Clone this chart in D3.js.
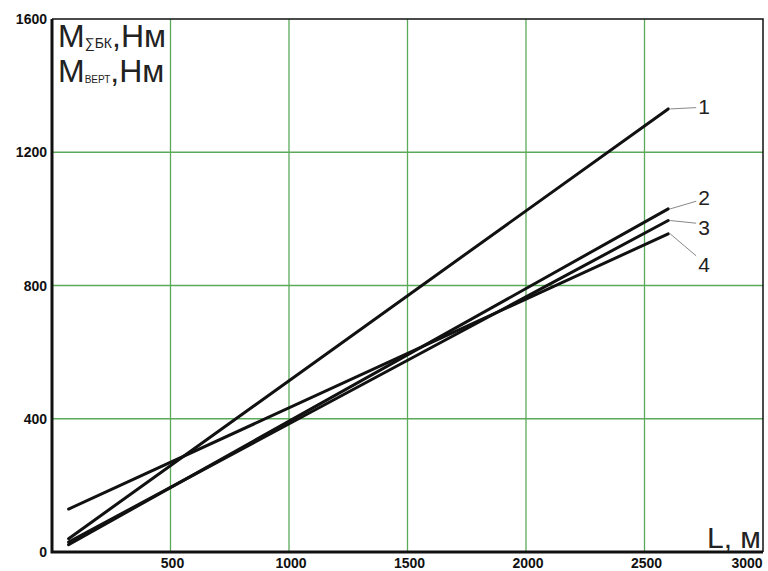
<!DOCTYPE html>
<html>
<head>
<meta charset="utf-8">
<script src="https://cdn.jsdelivr.net/npm/d3@7"></script>
<style>
  body { margin: 0; background: #fff; }
  svg text { font-family: "Liberation Sans", Arial, sans-serif; }
</style>
</head>
<body>
<svg width="768" height="571"></svg>
<script>
// chart data
const lengths = [70, 2600];
const curve1 = [40, 1330];
const curve2 = [22, 1030];
const curve3 = [30, 995];
const curve4 = [129, 955];
const curveNames = ['1', '2', '3', '4'];
const xTicks = [500, 1000, 1500, 2000, 2500, 3000];
const yTicks = [0, 400, 800, 1200, 1600];

const W = 768, H = 571;
const margin = { left: 52, right: 5, top: 19, bottom: 19 };

const svg = d3.select('svg');

const x = d3.scaleLinear().domain([0, 3000]).range([margin.left, W - margin.right]);
const y = d3.scaleLinear().domain([0, 1600]).range([H - margin.bottom, margin.top]);

// green grid
const grid = svg.append('g').attr('stroke', '#5aaa5a').attr('stroke-width', 1.3);
grid.selectAll('line.v').data(xTicks.slice(0, -1)).join('line')
  .attr('x1', d => x(d)).attr('x2', d => x(d))
  .attr('y1', y(0)).attr('y2', y(1600));
grid.selectAll('line.h').data(yTicks.slice(1, -1)).join('line')
  .attr('x1', x(0)).attr('x2', x(3000))
  .attr('y1', d => y(d)).attr('y2', d => y(d));

// frame: heavy left/bottom, thinner top/right
svg.append('path')
  .attr('d', `M${x(0)},${y(1600)}H${x(3000)}V${y(0)}`)
  .attr('fill', 'none').attr('stroke', '#111').attr('stroke-width', 1.5);
svg.append('path')
  .attr('d', `M${x(0)},${y(1600)}V${y(0)}H${x(3000)}`)
  .attr('fill', 'none').attr('stroke', '#111').attr('stroke-width', 3);

// tick labels
svg.append('g').selectAll('text').data(yTicks).join('text')
  .attr('x', x(0) - 5).attr('y', d => y(d) + 5)
  .attr('text-anchor', 'end')
  .attr('font-size', 14).attr('font-weight', 'bold').attr('fill', '#111')
  .text(d => d);
svg.append('g').selectAll('text').data(xTicks).join('text')
  .attr('x', d => d === 3000 ? x(d) - 16 : x(d) + 2).attr('y', H - 3)
  .attr('text-anchor', 'middle')
  .attr('font-size', 14).attr('font-weight', 'bold').attr('fill', '#111')
  .text(d => d);

// curves
const series = [curve1, curve2, curve3, curve4];
const line = d3.line().x(d => x(d[0])).y(d => y(d[1]));
svg.append('g').selectAll('path').data(series).join('path')
  .attr('d', s => line(lengths.map((L, i) => [L, s[i]])))
  .attr('fill', 'none').attr('stroke', '#111').attr('stroke-width', 3)
  .attr('stroke-linecap', 'round');

// leader lines and numbers
const labelY = [1340, 1065, 975, 865];
const leaders = svg.append('g');
series.forEach((s, i) => {
  const L = lengths[lengths.length - 1];
  const v = s[s.length - 1];
  leaders.append('line')
    .attr('x1', x(L) + 2).attr('y1', y(v))
    .attr('x2', x(L) + 28).attr('y2', y(labelY[i]) + (i === 0 ? 2 : i === 1 ? 4 : i === 2 ? -4 : -8))
    .attr('stroke', '#888').attr('stroke-width', 1);
  leaders.append('text')
    .attr('x', x(L) + 30).attr('y', y(labelY[i]) + 8)
    .attr('font-size', 21).attr('fill', '#222')
    .text(curveNames[i]);
});

// axis titles
const t1 = svg.append('text').attr('x', 58).attr('y', 47).attr('fill', '#222').attr('font-size', 32);
t1.append('tspan').text('M');
t1.append('tspan').attr('font-size', 14).attr('dy', 1).text('∑БК');
t1.append('tspan').attr('dy', -1).text(',Нм');
const t2 = svg.append('text').attr('x', 58).attr('y', 82).attr('fill', '#222').attr('font-size', 32);
t2.append('tspan').text('M');
t2.append('tspan').attr('font-size', 10).attr('dy', 1).text('ВЕРТ');
t2.append('tspan').attr('dy', -1).text(',Нм');

svg.append('text').attr('x', W - 7).attr('y', H - 23)
  .attr('text-anchor', 'end').attr('font-size', 30).attr('fill', '#222')
  .text('L, м');
</script>
</body>
</html>
